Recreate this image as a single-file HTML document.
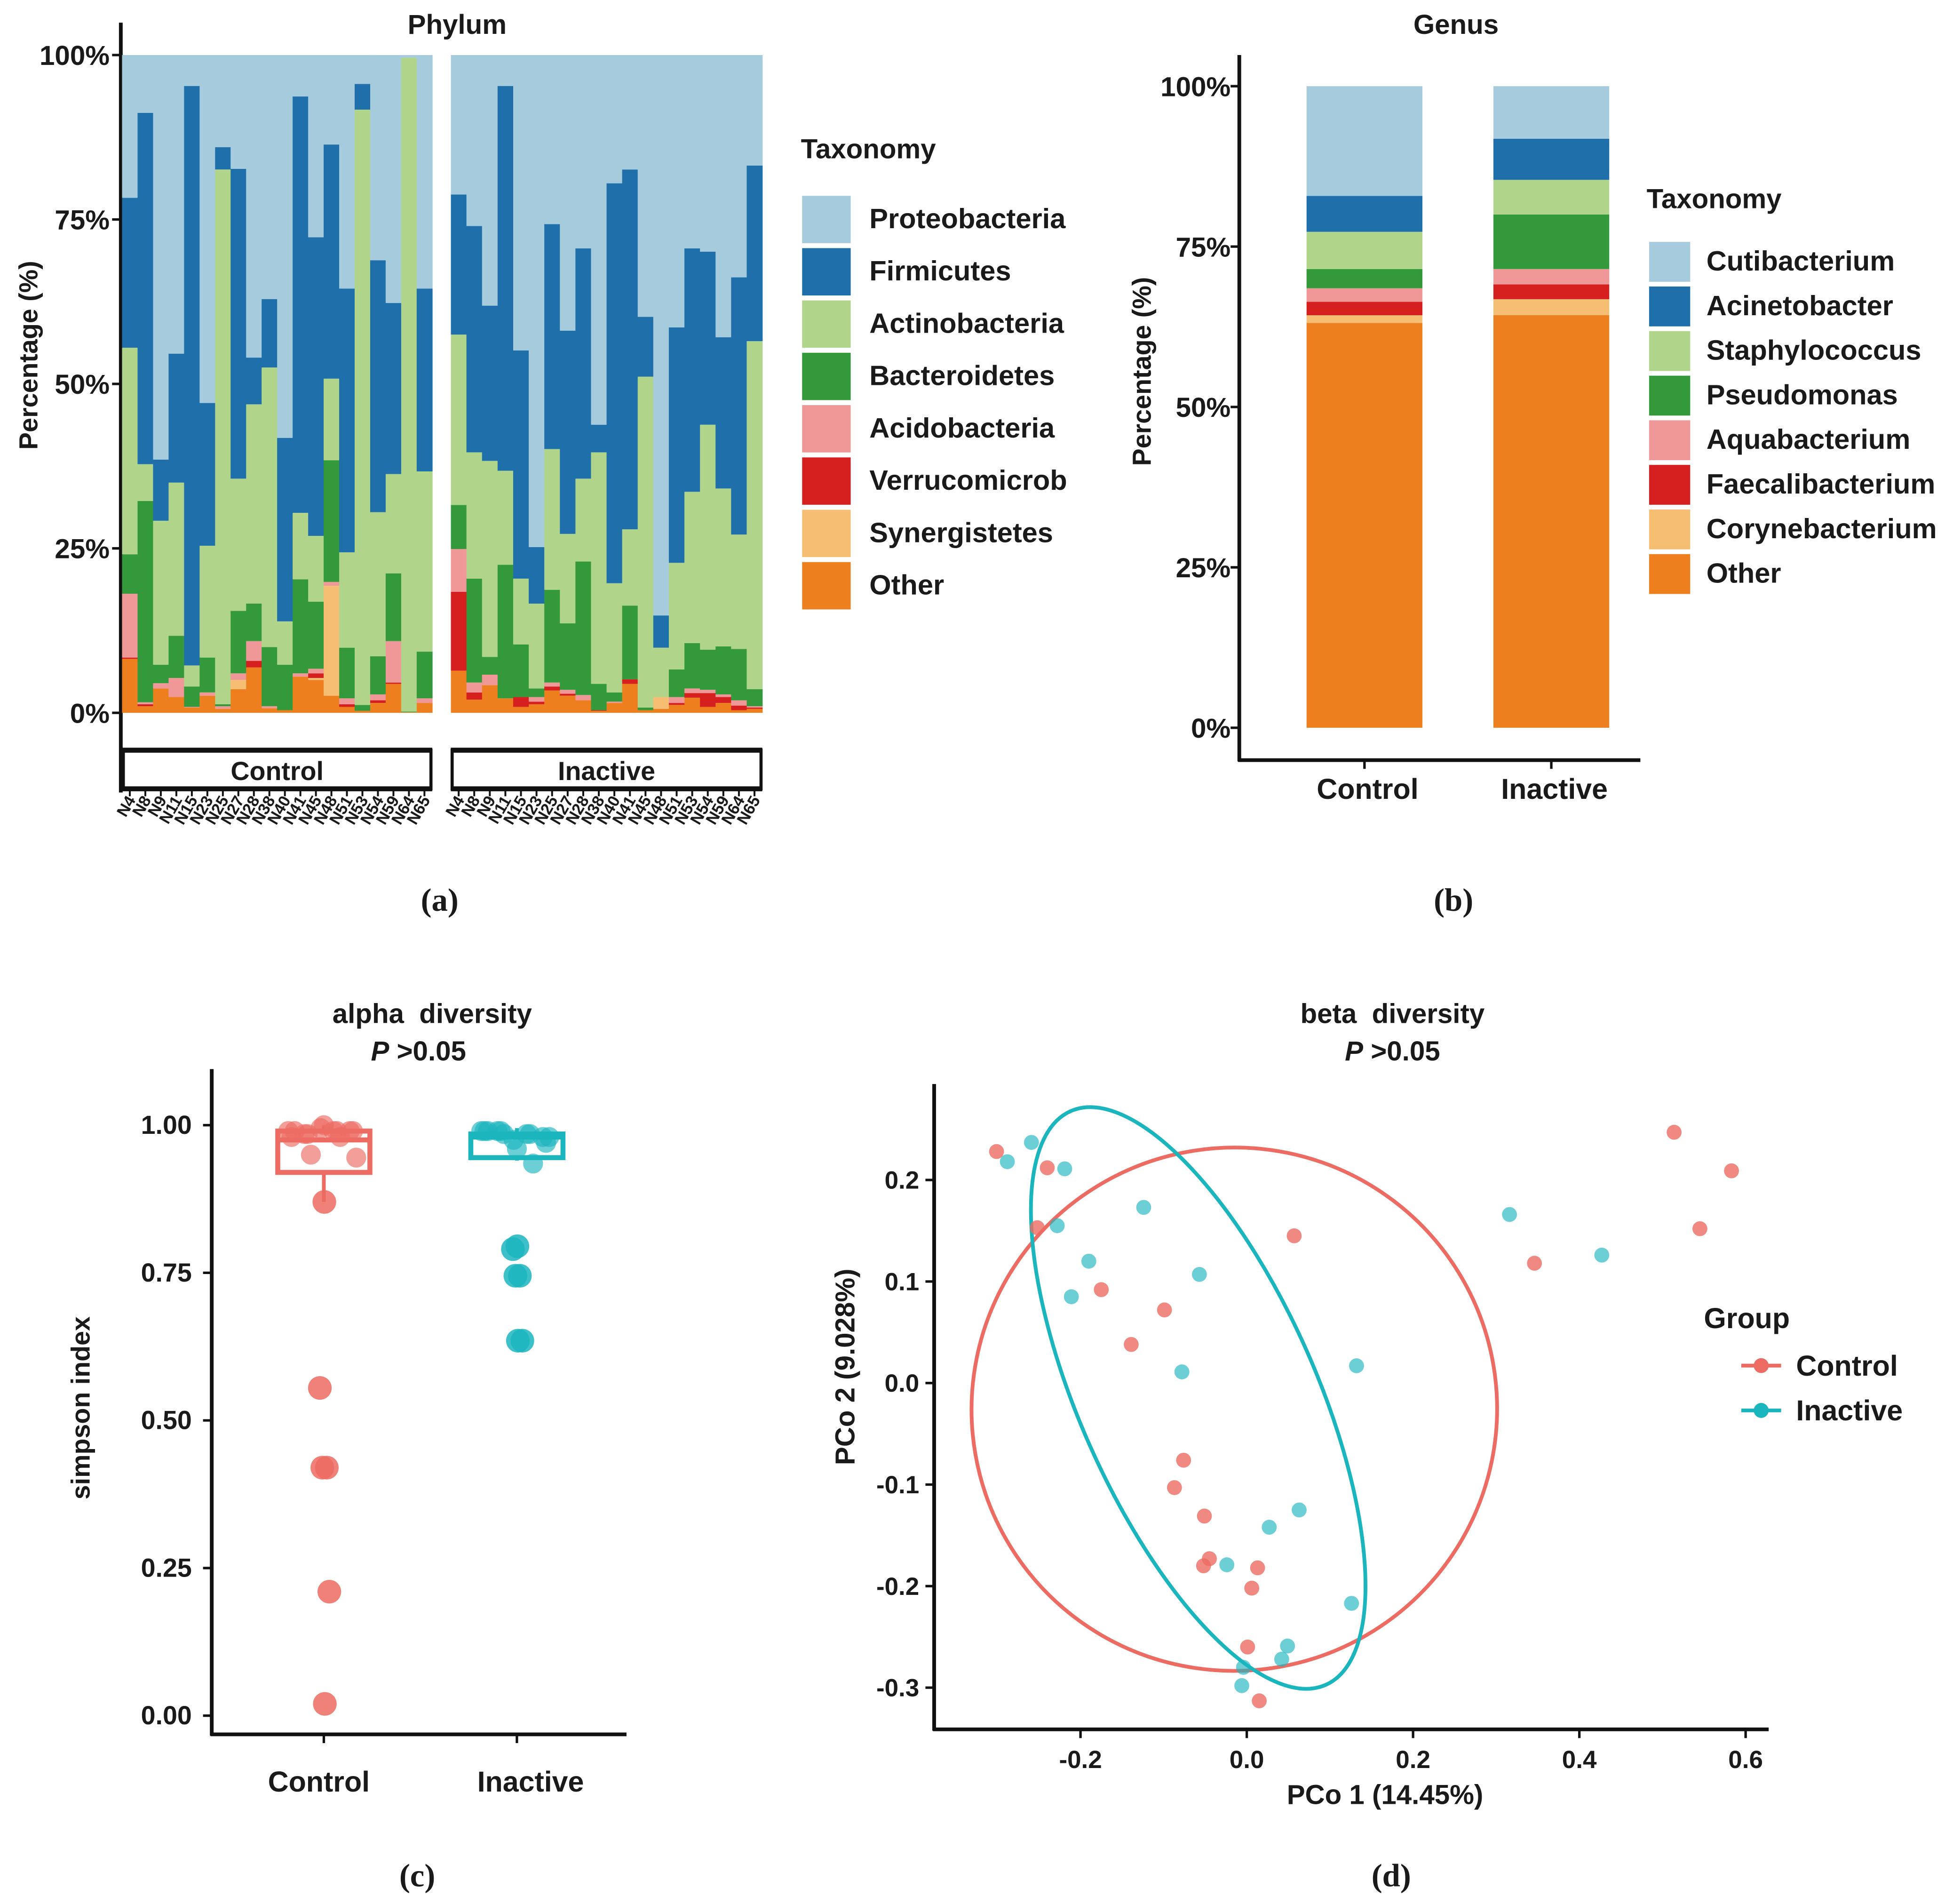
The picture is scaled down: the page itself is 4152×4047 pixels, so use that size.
<!DOCTYPE html>
<html><head><meta charset="utf-8"><style>
html,body{margin:0;padding:0;background:#fff}
svg{display:block}
text{font-family:"Liberation Sans",Arial,sans-serif;font-weight:bold;fill:#1a1a1a}
.cap{font-family:"Liberation Serif",serif;font-size:26px}
</style></head><body>
<svg id="fig" width="4152" height="4047" viewBox="0 0 1568 1528" xmlns="http://www.w3.org/2000/svg">
<g id="pa"></g>
<g id="pb"></g>
<g id="pc"></g>
<g id="pd"></g>
<text class="cap" x="353" y="731" text-anchor="middle">(a)</text>
<text class="cap" x="1167" y="731" text-anchor="middle">(b)</text>
<text class="cap" x="335" y="1514" text-anchor="middle">(c)</text>
<text class="cap" x="1117" y="1514" text-anchor="middle">(d)</text>
</svg>
<script>
const NS="http://www.w3.org/2000/svg";
function mk(p,t,a,txt){const e=document.createElementNS(NS,t);for(const k in a)e.setAttribute(k,a[k]);if(txt!==undefined)e.textContent=txt;p.appendChild(e);return e;}

// ---------- Panel A data ----------
const phyla=["Proteobacteria","Firmicutes","Actinobacteria","Bacteroidetes","Acidobacteria","Verrucomicrob","Synergistetes","Other"];
const phylaColors=["#a6cbdd","#1f6fab","#b0d48a","#33993a","#f09898","#d62020","#f5be73","#ee7f1f"];
const samples=["N4","N8","N9","N11","N15","N23","N25","N27","N28","N38","N40","N41","N45","N48","N51","N53","N54","N59","N64","N65"];
// per bar bottom-up: other, syn, verr, acido, bact, actino, firm (proteo = remainder)
const controlBars=[
[8.2,0,0.2,9.7,6,31.4,22.8],[1,0,0.3,0.3,30.6,5.6,53.4],[3.7,0,0,0.8,2.8,21.9,9.3],[2.4,0,0,2.9,6.4,23.3,19.6],
[0.8,0,0,0.1,3.1,3.2,88.1],[2.6,0,0,0.5,5.3,17,21.7],[0.6,0,0,0.4,0.3,81.3,3.4],[3.6,1.4,0,1,9.5,20.1,47.1],
[6.9,0,1,3,5.7,30.3,7.1],[0.7,0,0,0.3,9,42.5,10.4],[0.4,0,0,0,6.9,6.6,27.9],[5.5,0,0,0.5,14.3,10.1,63.3],
[5,0.3,0.7,0.7,10.2,10,45.4],[2.6,16.7,0,0.6,18.5,12.4,35.6],[0.9,0,0.4,0.9,7.7,14.5,40.1],[0.3,0,0,0,0.9,90.5,3.9],
[1.5,0,0.4,0.9,5.8,21.9,38.3],[4.4,0,0.2,6.3,10.3,15.1,26],[0.1,0,0,0,0.1,99.4,0],[1.5,0,0,0.7,7.1,27.4,27.8]];
const inactiveBars=[
[6.4,0,12,6.5,6.7,25.9,21.3],[2,0,1.1,1.5,15.8,19.2,34.4],[4.2,0,0,1.6,2.7,29.8,23.6],[2.2,0,0,0,20.3,14.3,58.5],
[0.9,0,1.5,0,8,10,34.7],[1.3,0,0.4,0.7,1.3,12.9,8.6],[3.4,0,0.6,0.6,14.1,21.4,34.2],[2.6,0,0.3,0.6,10.1,13.6,30.9],
[1.9,0,0,0.8,20.3,12.6,35],[0.3,0,0.1,0,4,35.2,4.2],[1.5,0,0,0.2,1.4,16.6,60.8],[4.4,0,0.7,0,11.2,11.6,54.7],
[0.4,0,0,0,0.4,50.3,9.1],[0.6,1.8,0,0,0,7.5,4.9],[1.2,0,0.3,0.9,4.2,16.2,35.8],[2.3,0,0.7,0.7,6.9,23,37],
[0.9,0,2.1,0.5,6.1,34.2,26.3],[1.5,0,0.9,0.4,7.3,24,23],[0.4,0,0.7,0.8,7.8,17.4,39.1],[0.6,0,0.2,0.2,2.6,52.9,26.7]];
const pctTicks=[0,25,50,75,100];

// ---------- Panel B data ----------
const genera=["Cutibacterium","Acinetobacter","Staphylococcus","Pseudomonas","Aquabacterium","Faecalibacterium","Corynebacterium","Other"];
const genusColors=["#a6cbdd","#1f6fab","#b0d48a","#33993a","#f09898","#d62020","#f5be73","#ee7f1f"];
const groups=["Control","Inactive"];
// bottom-up: other, coryne, faecali, aqua, pseudo, staph, acineto (cuti remainder)
const genusControl=[63.1,1.2,2.1,2.1,3.0,5.8,5.6];
const genusInactive=[64.3,2.5,2.3,2.4,8.5,5.4,6.4];

// ---------- Panel C data ----------
const simpsonControl=[0.99,0.99,0.985,0.99,0.995,0.98,0.99,0.985,0.99,1.0,0.99,0.98,0.95,0.945,0.87,0.555,0.42,0.42,0.21,0.02];
const simpsonInactive=[0.99,0.985,0.99,0.98,0.975,0.99,0.985,0.99,0.97,0.96,0.99,0.935,0.985,0.98,0.795,0.79,0.745,0.745,0.635,0.635];
const boxControl=[0.87,0.92,0.975,0.99,1.0];
const boxInactive=[0.94,0.945,0.98,0.985,0.995];
const simpTicks=[0,0.25,0.5,0.75,1.0];

// ---------- Panel D data ----------
const ctrlX=[-0.301,-0.240,-0.252,0.057,0.514,0.583,0.545,0.346,-0.175,-0.099,-0.139,-0.076,-0.087,-0.051,-0.045,-0.052,0.013,0.006,0.001,0.015];
const ctrlY=[0.228,0.212,0.153,0.145,0.247,0.209,0.152,0.118,0.092,0.072,0.038,-0.076,-0.103,-0.131,-0.173,-0.180,-0.182,-0.202,-0.260,-0.313];
const inacX=[-0.259,-0.288,-0.219,-0.228,-0.124,-0.190,-0.211,-0.057,-0.078,0.316,0.427,0.132,0.063,0.027,-0.024,0.126,0.049,0.042,-0.004,-0.006];
const inacY=[0.237,0.218,0.211,0.155,0.173,0.120,0.085,0.107,0.011,0.166,0.126,0.017,-0.125,-0.142,-0.179,-0.217,-0.259,-0.272,-0.280,-0.298];
const xTicksD=[-0.2,0,0.2,0.4,0.6];
const yTicksD=[-0.3,-0.2,-0.1,0,0.1,0.2];

// ===== Panel A =====
(function(){
const g=document.getElementById('pa');
const y=v=>572-v/100*528;
mk(g,'text',{x:367,y:27,'text-anchor':'middle','font-size':22},'Phylum');
const yt=mk(g,'text',{transform:'translate(30,285) rotate(-90)','text-anchor':'middle','font-size':21},'Percentage (%)');

mk(g,'line',{x1:97,y1:18,x2:97,y2:636,stroke:'#111','stroke-width':3});
pctTicks.forEach(t=>{mk(g,'line',{x1:90,x2:97,y1:y(t),y2:y(t),stroke:'#111','stroke-width':2});
 const l=mk(g,'text',{x:88,y:y(t)+8,'text-anchor':'end','font-size':22},t+'%');});
function grp(bars,x0,x1,name){
 const w=(x1-x0)/bars.length;
 bars.forEach((b,i)=>{let c=0;
  const vals=b.slice();const s=vals.reduce((a,v)=>a+v,0);vals.push(100-s);
  for(let k=0;k<8;k++){const v=vals[k];if(v<=0)continue;
   const r=mk(g,'rect',{x:x0+i*w,y:y(c+v),width:w+0.3,height:v/100*528,fill:phylaColors[7-k]});
   c+=v;}
  const cx=x0+(i+0.5)*w;
  mk(g,'line',{x1:cx,x2:cx,y1:634,y2:639,stroke:'#111','stroke-width':1.5});
  const t=mk(g,'text',{transform:`translate(${cx+5},642) rotate(-60)`,'text-anchor':'end','font-size':13},samples[i]);
  
 });
 mk(g,'rect',{x:x0+1,y:602,width:x1-x0-2,height:31,fill:'#fff',stroke:'#111','stroke-width':2.5});
 mk(g,'line',{x1:x0,x2:x1,y1:602,y2:602,stroke:'#111','stroke-width':4});
 mk(g,'line',{x1:x0,x2:x1,y1:633,y2:633,stroke:'#111','stroke-width':4});
 const st=mk(g,'text',{x:(x0+x1)/2,y:626,'text-anchor':'middle','font-size':21},name);
}
grp(controlBars,98,347,'Control');
grp(inactiveBars,362,612,'Inactive');
const lt=mk(g,'text',{x:643,y:127,'font-size':22},'Taxonomy');
phyla.forEach((p,i)=>{const r=mk(g,'rect',{x:644,y:157+i*42,width:39,height:38,fill:phylaColors[i]});
 
 const t=mk(g,'text',{x:698,y:183+i*42,'font-size':22.5},p);});
})();

// ===== Panel B =====
(function(){
const g=document.getElementById('pb');
const y=v=>584-v/100*515;
mk(g,'text',{x:1169,y:27,'text-anchor':'middle','font-size':22},'Genus');
const yt=mk(g,'text',{transform:'translate(924,298) rotate(-90)','text-anchor':'middle','font-size':21},'Percentage (%)');

mk(g,'line',{x1:995,y1:44,x2:995,y2:611,stroke:'#111','stroke-width':3});
mk(g,'line',{x1:994,y1:610,x2:1317,y2:610,stroke:'#111','stroke-width':3});
pctTicks.forEach(t=>{mk(g,'line',{x1:988,x2:995,y1:y(t),y2:y(t),stroke:'#111','stroke-width':2});
 const l=mk(g,'text',{x:988,y:y(t)+8,'text-anchor':'end','font-size':22},t+'%');});
[genusControl,genusInactive].forEach((b,i)=>{const x0=i?1199:1049;let c=0;
 const vals=b.slice();vals.push(100-vals.reduce((a,v)=>a+v,0));
 vals.forEach((v,k)=>{const r=mk(g,'rect',{x:x0,y:y(c+v),width:93,height:v/100*515,fill:genusColors[7-k]});
  c+=v;});
 mk(g,'line',{x1:x0+46.5,x2:x0+46.5,y1:610,y2:617,stroke:'#111','stroke-width':2});
 const t=mk(g,'text',{x:x0+49,y:641,'text-anchor':'middle','font-size':23},groups[i]);
});
const lt=mk(g,'text',{x:1322,y:167,'font-size':22},'Taxonomy');
genera.forEach((p,i)=>{const r=mk(g,'rect',{x:1324,y:194+i*35.8,width:33,height:32,fill:genusColors[i]});
 
 const t=mk(g,'text',{x:1370,y:217+i*35.8,'font-size':22.5},p);});
})();

// ===== Panel C =====
(function(){
const g=document.getElementById('pc');
const y=v=>1377-v*474;
const t1=mk(g,'text',{x:347,y:821,'text-anchor':'middle','font-size':22},'alpha\u00a0\u00a0diversity');
const t2=mk(g,'text',{x:336,y:851,'text-anchor':'middle','font-size':22});
mk(t2,'tspan',{'font-style':'italic'},'P');mk(t2,'tspan',{},' >0.05');
const yt=mk(g,'text',{transform:'translate(72,1130) rotate(-90)','text-anchor':'middle','font-size':21},'simpson index');
mk(g,'line',{x1:170,y1:858,x2:170,y2:1393,stroke:'#111','stroke-width':3});
mk(g,'line',{x1:169,y1:1392,x2:503,y2:1392,stroke:'#111','stroke-width':3});
simpTicks.forEach(t=>{mk(g,'line',{x1:163,x2:170,y1:y(t),y2:y(t),stroke:'#111','stroke-width':2});
 const l=mk(g,'text',{x:154,y:y(t)+7,'text-anchor':'end','font-size':21},t.toFixed(2));});
const cx=[260,415],cols=['#ec6b62','#1bb5be'];
[[simpsonControl,boxControl],[simpsonInactive,boxInactive]].forEach(([pts,bx],i)=>{
 const c=cx[i],col=cols[i];
 mk(g,'line',{x1:c,x2:c,y1:y(bx[0]),y2:y(bx[1]),stroke:col,'stroke-width':3});
 mk(g,'line',{x1:c,x2:c,y1:y(bx[3]),y2:y(bx[4]),stroke:col,'stroke-width':3});
 const b=mk(g,'rect',{x:c-37,y:y(bx[3]),width:74,height:y(bx[1])-y(bx[3]),fill:'none',stroke:col,'stroke-width':4});
 
 mk(g,'line',{x1:c-37,x2:c+37,y1:y(bx[2]),y2:y(bx[2]),stroke:col,'stroke-width':4});
 pts.forEach((v,j)=>{const jit=((j*37)%23-11)*(v>0.9?2.6:0.4);
  const p=mk(g,'circle',{cx:c+jit,cy:y(v),r:v>0.9?8:9.5,fill:col,'fill-opacity':v>0.9?0.65:0.85});
  });
 mk(g,'line',{x1:c,x2:c,y1:1392,y2:1399,stroke:'#111','stroke-width':2});
 const t=mk(g,'text',{x:i?426:256,y:1438,'text-anchor':'middle','font-size':23},groups[i]);
});
})();

// ===== Panel D =====
(function(){
const g=document.getElementById('pd');
const X=v=>1001+v*667.5, Y=v=>1110-v*815;
const t1=mk(g,'text',{x:1118,y:821,'text-anchor':'middle','font-size':22},'beta\u00a0\u00a0diversity');
const t2=mk(g,'text',{x:1118,y:851,'text-anchor':'middle','font-size':22});
mk(t2,'tspan',{'font-style':'italic'},'P');mk(t2,'tspan',{},' >0.05');
mk(g,'line',{x1:750,y1:870,x2:750,y2:1389,stroke:'#111','stroke-width':3});
mk(g,'line',{x1:749,y1:1388,x2:1420,y2:1388,stroke:'#111','stroke-width':3});
xTicksD.forEach(t=>{mk(g,'line',{x1:X(t),x2:X(t),y1:1388,y2:1395,stroke:'#111','stroke-width':2});
 const l=mk(g,'text',{x:X(t),y:1419,'text-anchor':'middle','font-size':20},t.toFixed(1));});
yTicksD.forEach(t=>{mk(g,'line',{x1:743,x2:750,y1:Y(t),y2:Y(t),stroke:'#111','stroke-width':2});
 const l=mk(g,'text',{x:738,y:Y(t)+7,'text-anchor':'end','font-size':20},t.toFixed(1));});
const xt=mk(g,'text',{x:1112,y:1448,'text-anchor':'middle','font-size':22},'PCo 1 (14.45%)');
const yt=mk(g,'text',{transform:'translate(686,1097) rotate(-90)','text-anchor':'middle','font-size':22},'PCo 2 (9.028%)');
const e1=mk(g,'ellipse',{cx:991,cy:1131,rx:211,ry:210,fill:'none',stroke:'#ec6b62','stroke-width':3,transform:'rotate(-10 991 1131)'});

const e2=mk(g,'ellipse',{cx:962,cy:1122,rx:95,ry:252,fill:'none',stroke:'#1bb5be','stroke-width':3,transform:'rotate(-24 962 1122)'});

ctrlX.forEach((v,i)=>{const p=mk(g,'circle',{cx:X(v),cy:Y(ctrlY[i]),r:6,fill:'#ec6b62','fill-opacity':0.8});});
inacX.forEach((v,i)=>{const p=mk(g,'circle',{cx:X(v),cy:Y(inacY[i]),r:6,fill:'#1bb5be','fill-opacity':0.65});});
const lt=mk(g,'text',{x:1368,y:1066,'font-size':23},'Group');
groups.forEach((n,i)=>{const yy=1096+i*36,col=['#ec6b62','#1bb5be'][i];
 mk(g,'line',{x1:1398,x2:1430,y1:yy,y2:yy,stroke:col,'stroke-width':3});
 mk(g,'circle',{cx:1414,cy:yy,r:6,fill:col});
 const t=mk(g,'text',{x:1442,y:yy+8,'font-size':23},n);});
})();
</script>
</body></html>
